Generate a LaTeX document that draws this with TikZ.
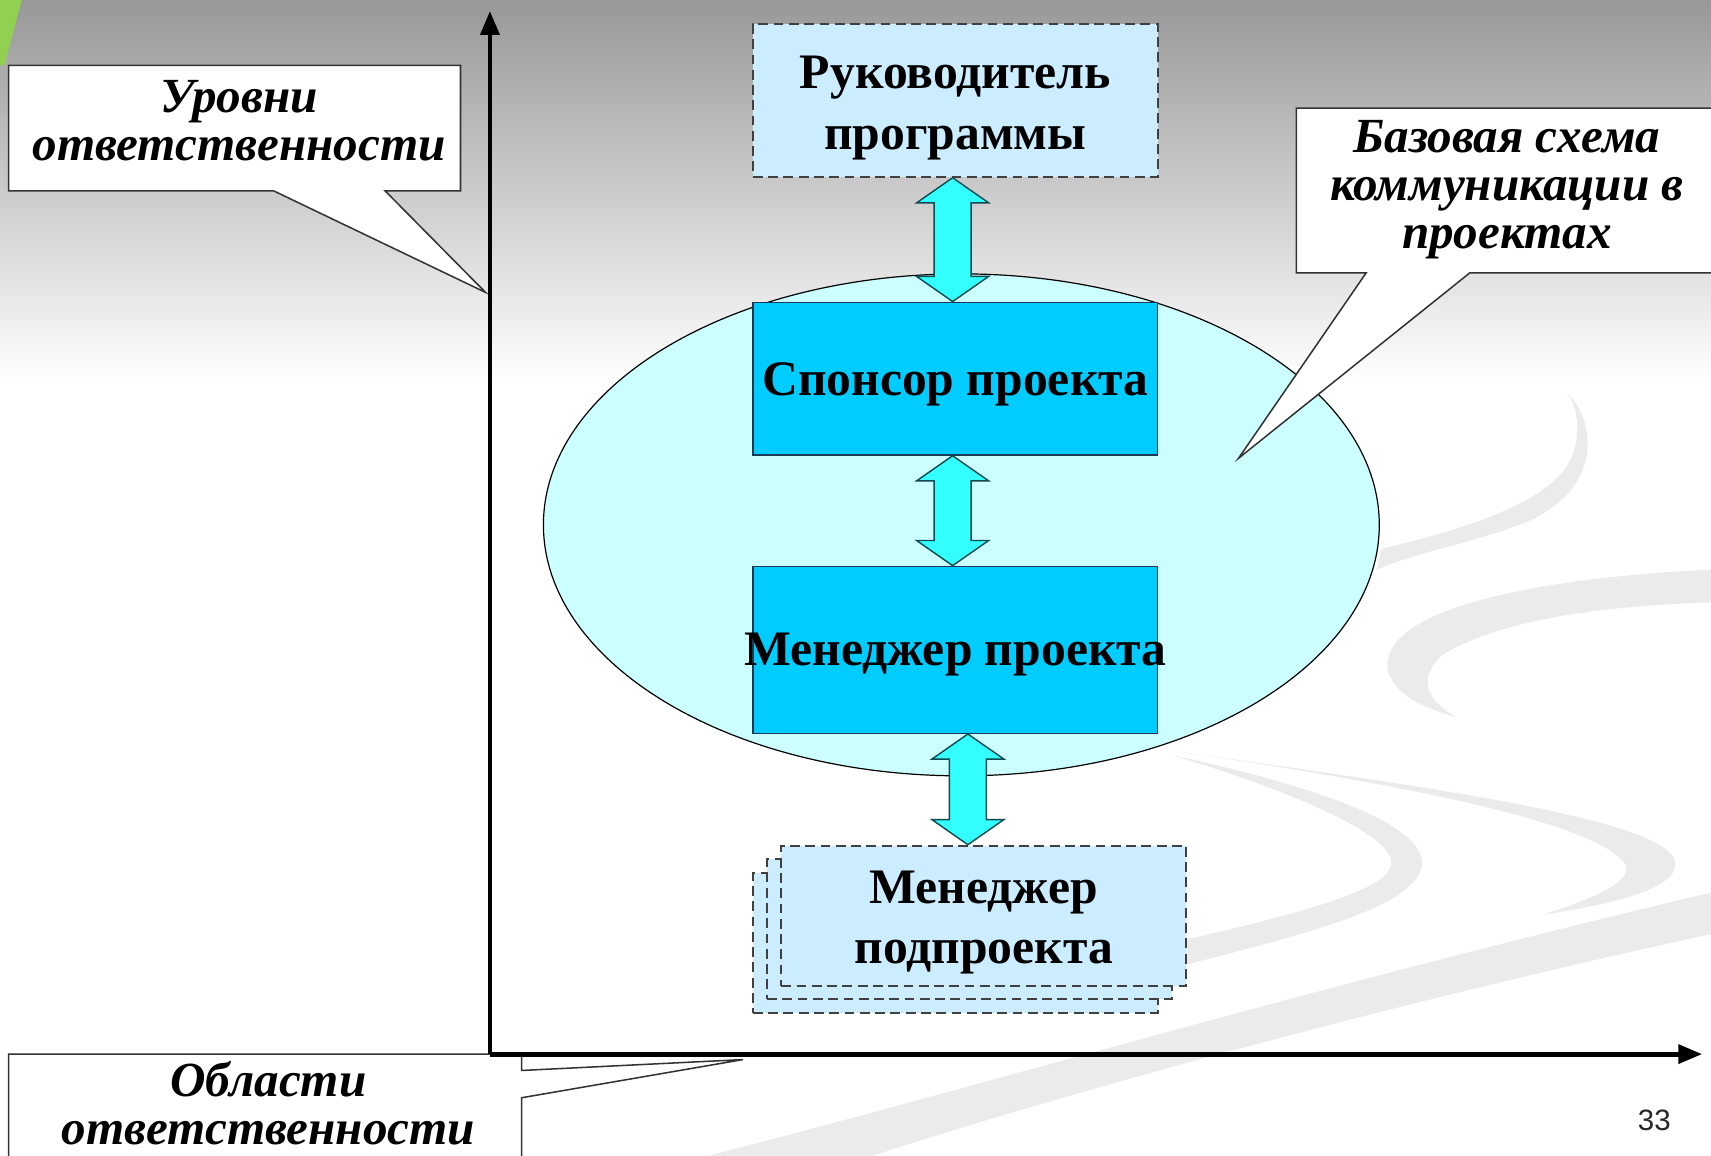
\documentclass[tikz,border=0pt]{standalone}
\usepackage{fontspec}
\setmainfont{Liberation Serif}
\newfontfamily\pagenumfont{Liberation Sans}
\usetikzlibrary{calc,arrows.meta,shapes.geometric}

\definecolor{boxblue}{HTML}{00CCFF}
\definecolor{paleblue}{HTML}{CCECFF}
\definecolor{palecyan}{HTML}{CCFFFF}
\definecolor{arrcyan}{HTML}{33FFFF}
\definecolor{arredge}{HTML}{0E4A50}
\definecolor{boxedge}{HTML}{1A3A5A}
\definecolor{dashgray}{HTML}{404040}
\definecolor{leaf}{HTML}{92D050}
\definecolor{swoosh}{HTML}{EBEBEB}

% two-headed block arrow from a top point to a bottom point
\newcommand\biarrow[2]{%
  \draw[biarr] let \p1=(#1), \p2=(#2) in
    (\x1,\y1) -- (\x1+33pt,\y1-23pt) -- (\x1+17pt,\y1-23pt)
    -- (\x1+17pt,\y2+23pt) -- (\x1+33pt,\y2+23pt) -- (\x2,\y2)
    -- (\x1-33pt,\y2+23pt) -- (\x1-17pt,\y2+23pt)
    -- (\x1-17pt,\y1-23pt) -- (\x1-33pt,\y1-23pt) -- cycle;}

\begin{document}
\begin{tikzpicture}[x=1pt,y=-1pt,
  boxfont/.style={font=\bfseries\fontsize{45.5}{55}\selectfont},
  notefont/.style={font=\bfseries\itshape\fontsize{45}{44}\selectfont},
  solidbox/.style={draw=boxedge, line width=1.3pt, fill=boxblue,
    minimum width=371pt, inner sep=0pt},
  dashbox/.style={draw=dashgray, line width=1.8pt, dash pattern=on 9pt off 5pt,
    fill=paleblue, minimum width=371pt, inner sep=0pt},
  label/.style={boxfont, align=center, inner sep=0pt},
  biarr/.style={fill=arrcyan, draw=arredge, line width=1.3pt, line join=miter},
  callout/.style={fill=white, draw=black!80, line width=1.4pt},
  axis/.style={line width=4.5pt, -{Triangle[length=22pt,width=17pt]}},
]
\useasboundingbox (0,0) rectangle (1568,1059);

% slide background: grey fade at the top, white below
\fill[white] (0,0) rectangle (1568,1059);
\shade[top color={rgb,255:red,152;green,152;blue,152}, bottom color=white]
  (0,0) rectangle (1568,350);
\fill[leaf] (0,0) -- (20,0) -- (4,60) -- (0,60) -- cycle;

% decorative swooshes
\fill[swoosh] (1436,359) .. controls (1468,395) and (1462,450) .. (1400,478)
  .. controls (1350,498) and (1300,505) .. (1262,522)
  -- (1266,503) .. controls (1320,490) and (1420,465) .. (1440,420)
  .. controls (1450,395) and (1445,372) .. (1436,359) -- cycle;
\fill[swoosh] (1568,522) .. controls (1400,530) and (1262,560) .. (1272,615)
  .. controls (1280,640) and (1310,650) .. (1334,657)
  .. controls (1305,640) and (1300,620) .. (1322,600)
  .. controls (1380,565) and (1480,555) .. (1568,552) -- cycle;
\fill[swoosh] (1060,686) .. controls (1300,720) and (1528,750) .. (1535,790)
  .. controls (1540,815) and (1470,830) .. (1415,838)
  .. controls (1470,820) and (1500,805) .. (1488,790)
  .. controls (1460,755) and (1300,720) .. (1060,686) -- cycle;
\fill[swoosh] (1074,692) .. controls (1250,730) and (1305,765) .. (1303,792)
  .. controls (1300,830) and (1200,855) .. (1083,885)
  -- (1083,862) .. controls (1200,835) and (1272,815) .. (1275,792)
  .. controls (1278,768) and (1200,730) .. (1074,692) -- cycle;
\fill[swoosh] (650,1059) .. controls (900,995) and (1200,905) .. (1568,818)
  -- (1568,856) .. controls (1250,925) and (950,1010) .. (800,1059) -- cycle;

% project communication area
\node[draw=black, line width=1.1pt, fill=palecyan, ellipse,
  minimum width=766pt, minimum height=460pt, inner sep=0pt] (area) at (881,481) {};

% role boxes
\node[dashbox, minimum height=140pt] (prog) at (875.5,92) {};
\node[label] (progtext) at (875.5,99) {Руководитель\\программы};
\node[solidbox, minimum height=140pt] (spon) at (875.5,347) {};
\node[label] (spontext) at (875.5,352) {Спонсор проекта};
\node[solidbox, minimum height=153pt] (pm) at (875.5,595.5) {};
\node[label] (pmtext) at (875.5,600) {Менеджер проекта};
\node[dashbox, minimum height=128pt] (sub3) at (875.5,864) {};
\node[dashbox, minimum height=128pt] (sub2) at (888.5,851.5) {};
\node[dashbox, minimum height=129pt] (sub1) at (901.5,839.5) {};
\node[label] (subtext) at (901.5,845) {Менеджер\\подпроекта};

% two-way links between levels
\coordinate (colA) at (873,0);
\coordinate (colB) at (887,0);
\biarrow{prog.south -| colA}{spon.north -| colA}
\biarrow{spon.south -| colA}{pm.north -| colA}
\biarrow{pm.south -| colB}{sub1.north -| colB}

% callouts
\draw[callout] (8,60) -- (422,60) -- (422,175) -- (353,175) -- (445,268)
  -- (251,175) -- (8,175) -- cycle;
\node[notefont, align=center] (levels) at (219,111) {Уровни\\ответственности};

\draw[callout] (1188,99) -- (1580,99) -- (1580,250) -- (1347,250) -- (1135,420)
  -- (1252,250) -- (1188,250) -- cycle;
\node[notefont, align=center] (scheme) at (1381,174)
  {Базовая схема\\коммуникации в\\проектах};

\draw[callout] (8,966) -- (478,966) -- (478,981) -- (681,971) -- (478,1006)
  -- (478,1075) -- (8,1075) -- cycle;
\node[notefont, align=center, inner sep=0pt] (areas) at (246,1011) {Области\\ответственности};

% axes
\coordinate (origin) at (449,966);
\coordinate (ytip) at (449,10);
\coordinate (xtip) at (1560,966);
\draw[axis] (origin) -- (ytip);
\draw[axis] (origin) -- (xtip);

\node[font=\pagenumfont\fontsize{27}{30}\selectfont, text=black!85] (pagenum)
  at (1516,1027) {33};
\end{tikzpicture}
\end{document}
